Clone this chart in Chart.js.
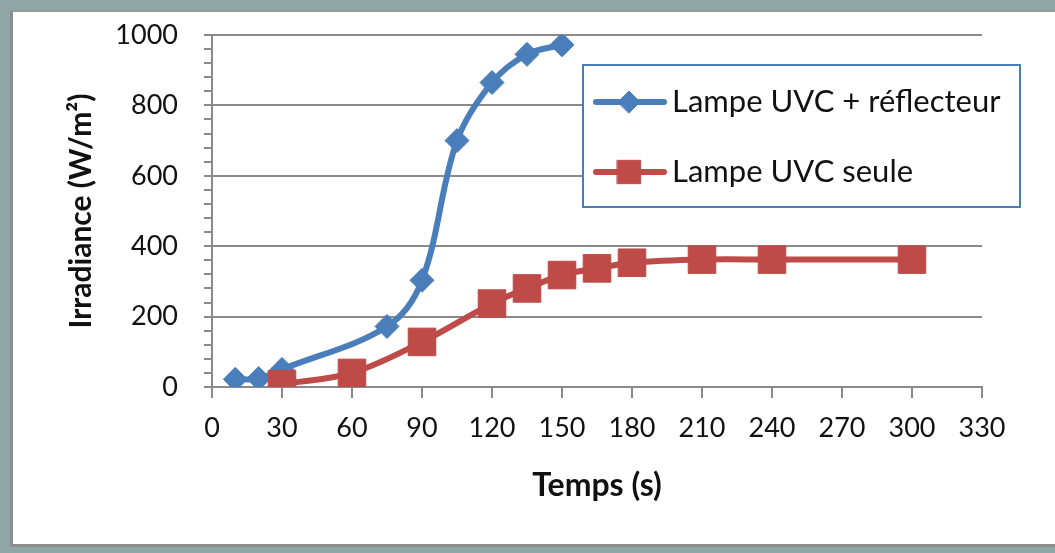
<!DOCTYPE html>
<html lang="fr">
<head>
<meta charset="UTF-8">
<title>Irradiance - Lampe UVC</title>
<script src="https://cdn.jsdelivr.net/npm/chart.js"></script>
<style>
  body { margin: 0; width: 1055px; height: 553px; background: #8fa5a6; position: relative; overflow: hidden; }
  .frame { position: absolute; left: 10px; top: 10px; width: 1045px; height: 532px; background: #fff;
           border-left: 3px solid #8c8c8c; border-top: 2px solid #9a9a9a; border-bottom: 3px solid #8c8c8c; }
  canvas { position: absolute; left: 0; top: 0; }
</style>
</head>
<body>
<div class="frame"></div>
<canvas id="irrChart" width="1055" height="553"></canvas>
<script>
// time (s) and irradiance (W/m2)
const reflectorTimes = [10, 20, 30, 75, 90, 105, 120, 135, 150];
const reflectorIrradiance = [22, 24, 50, 172, 303, 700, 865, 945, 972];
const lampTimes = [30, 60, 90, 120, 135, 150, 165, 180, 210, 240, 300];
const lampIrradiance = [8, 40, 128, 237, 280, 318, 337, 353, 362, 362, 362];

const seriesLabels = ['Lampe UVC + réflecteur', 'Lampe UVC seule'];
const xTitle = 'Temps (s)';
const yTitle = 'Irradiance (W/m²)';

const BLUE = '#4a7ebb';
const RED = '#be4b48';
const AXIS = '#8a8a8a';
const FONT = 'Lato, "Open Sans", sans-serif';

function toPoints(xs, ys) {
    return xs.map((x, i) => ({ x: x, y: ys[i] }));
}

// legend drawn as a framed box inside the plot, like the original
const boxLegend = {
    id: 'boxLegend',
    afterDatasetsDraw(chart) {
        const ctx = chart.ctx;
        const rows = [102, 172];
        ctx.save();
        ctx.fillStyle = '#fff';
        ctx.fillRect(583, 65, 437, 142);
        ctx.strokeStyle = BLUE;
        ctx.lineWidth = 2;
        ctx.strokeRect(583, 65, 437, 142);
        chart.data.datasets.forEach((ds, i) => {
            const y = rows[i];
            ctx.strokeStyle = ds.borderColor;
            ctx.lineWidth = 6;
            ctx.lineCap = 'round';
            ctx.beginPath();
            ctx.moveTo(596, y);
            ctx.lineTo(664, y);
            ctx.stroke();
            ctx.fillStyle = ds.backgroundColor;
            ctx.strokeStyle = ds.borderColor;
            ctx.lineWidth = 1;
            Chart.helpers.drawPoint(ctx, { pointStyle: ds.pointStyle, radius: i === 0 ? 11 : 16.5, rotation: 0, borderWidth: 1 }, 629, y);
            ctx.fillStyle = '#111';
            ctx.font = '31px ' + FONT;
            ctx.textBaseline = 'middle';
            ctx.textAlign = 'left';
            ctx.fillText(ds.label, 672, y);
        });
        ctx.restore();
    }
};

const config = {
    type: 'line',
    data: {
        datasets: [{
            label: seriesLabels[0],
            data: toPoints(reflectorTimes, reflectorIrradiance),
            borderColor: BLUE,
            backgroundColor: BLUE,
            borderWidth: 6,
            tension: 0.35,
            pointStyle: 'rectRot',
            pointRadius: 12,
            pointHoverRadius: 12,
            pointBorderWidth: 1,
            order: 1
        }, {
            label: seriesLabels[1],
            data: toPoints(lampTimes, lampIrradiance),
            borderColor: RED,
            backgroundColor: RED,
            borderWidth: 6,
            tension: 0.35,
            pointStyle: 'rect',
            pointRadius: 19.5,
            pointHoverRadius: 19.5,
            pointBorderWidth: 1,
            order: 0
        }]
    },
    options: {
        responsive: false,
        animation: false,
        devicePixelRatio: 1,
        layout: { padding: { left: 0, top: 35, right: 73, bottom: 0 } },
        plugins: { legend: { display: false }, tooltip: { enabled: false } },
        scales: {
            x: {
                type: 'linear',
                min: 0,
                max: 330,
                afterFit: (scale) => { scale.height = 166; },
                border: { color: AXIS, width: 2 },
                grid: { drawOnChartArea: false, color: AXIS, tickColor: AXIS, tickLength: 11, lineWidth: 2 },
                ticks: { stepSize: 30, color: '#111', padding: 14, font: { family: FONT, size: 27 } },
                title: { display: true, text: xTitle, color: '#111', padding: { top: 0, bottom: 48 }, font: { family: FONT, size: 32, weight: 'bold' } }
            },
            y: {
                min: 0,
                max: 1000,
                afterFit: (scale) => {
                    scale.width = 212;
                    scale.paddingTop = 0;
                    scale.paddingBottom = 0;
                },
                border: { color: AXIS, width: 2 },
                grid: {
                    color: (c) => (c.tick && c.tick.value % 200 === 0) ? AXIS : 'rgba(0,0,0,0)',
                    tickColor: AXIS,
                    tickLength: 8,
                    lineWidth: 2
                },
                ticks: {
                    stepSize: 40,
                    autoSkip: false,
                    color: '#111',
                    padding: 26,
                    font: { family: FONT, size: 27 },
                    callback: (v) => v % 200 === 0 ? v : ''
                },
                title: { display: true, text: yTitle, color: '#111', padding: { top: 63, bottom: 0 }, font: { family: FONT, size: 30, weight: 'bold' } }
            }
        }
    },
    plugins: [boxLegend]
};

window.onload = function() {
    const ctx = document.getElementById('irrChart').getContext('2d');
    new Chart(ctx, config);
};
</script>
</body>
</html>
